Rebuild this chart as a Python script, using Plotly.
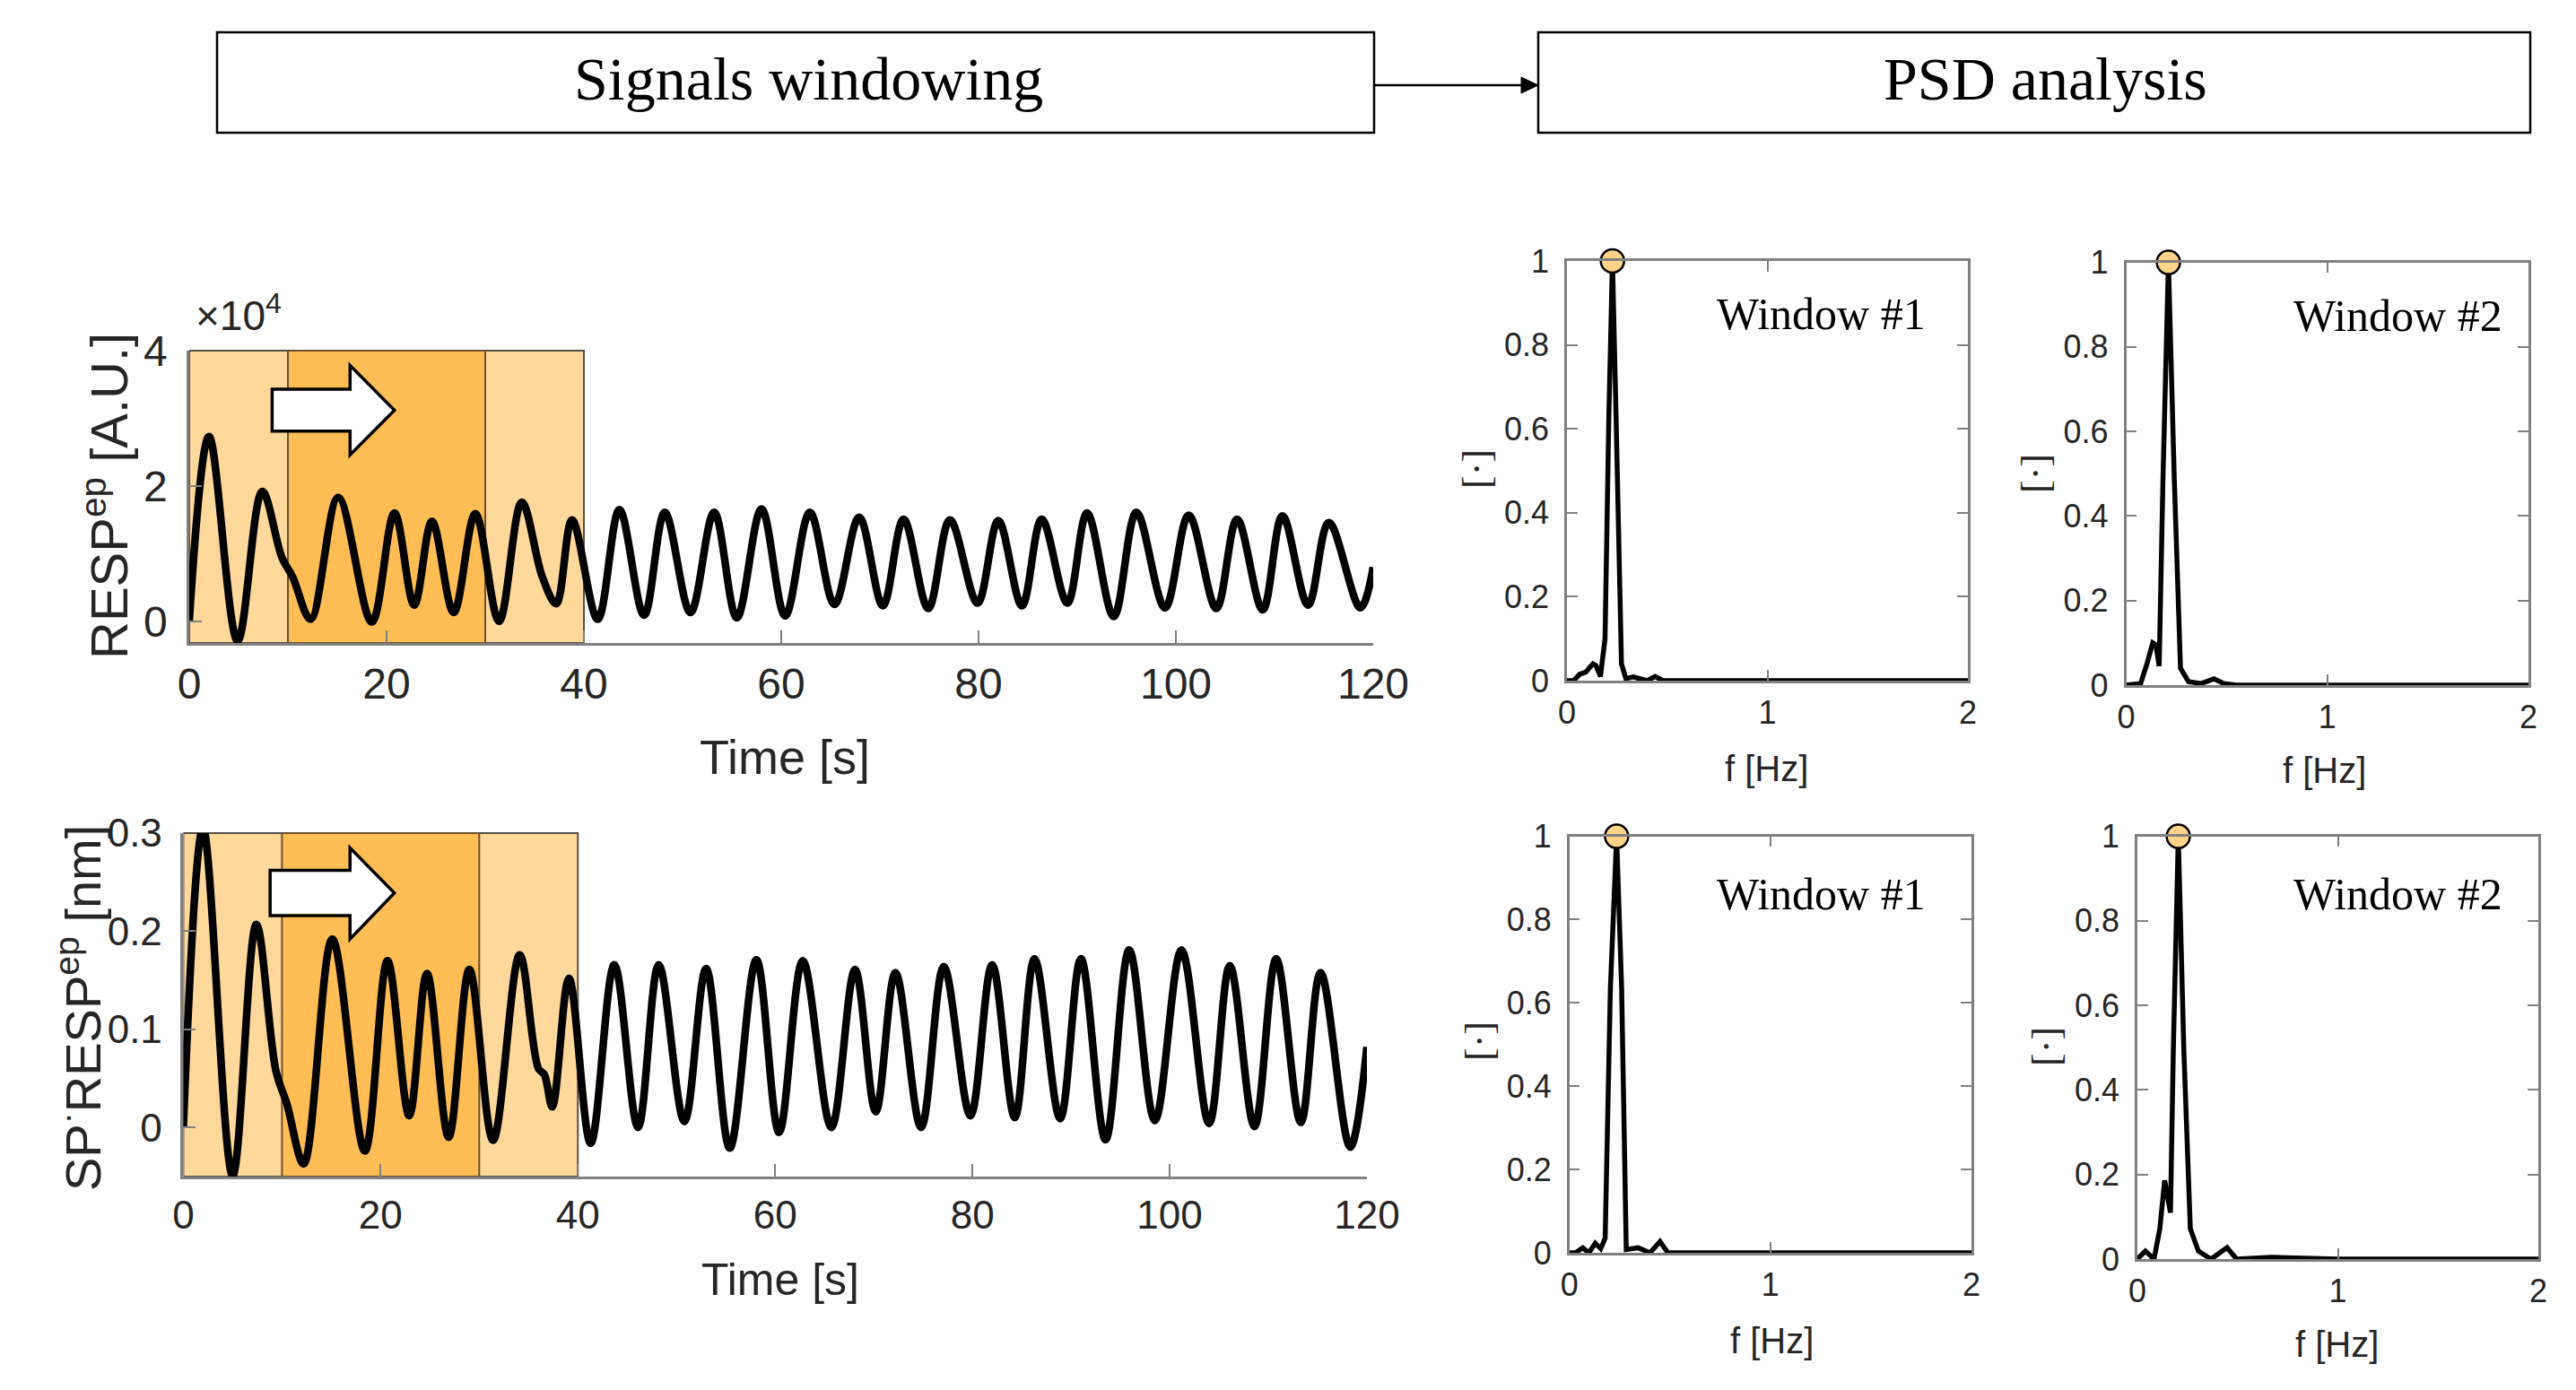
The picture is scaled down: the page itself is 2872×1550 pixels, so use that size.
import plotly.graph_objects as go

W, H = 2872, 1550

# ---------------- data ----------------
# RESP^ep signal (x10^4 A.U.) : extrema / shape points
t_resp = [0, 2.0, 4.9, 7.4, 9.4, 10.5, 12.3, 15.1, 18.5, 20.8, 22.8, 24.6, 26.8, 29.0, 31.4,
          33.7, 35.8, 37.2, 38.8, 41.4, 43.6, 46.1, 48.2, 50.8, 53.2, 55.5, 58.0, 60.4, 62.9,
          65.4, 67.9, 70.3, 72.4, 74.9, 77.1, 79.9, 82.0, 84.4, 86.4, 89.0, 91.0, 93.7, 96.0,
          98.9, 101.3, 104.1, 106.2, 108.8, 110.8, 113.4, 115.5, 118.7, 120.0]
resp = [0.0, 2.73, -0.29, 1.92, 0.94, 0.65, 0.03, 1.83, -0.01, 1.60, 0.24, 1.48, 0.13, 1.59, 0.0,
        1.76, 0.65, 0.26, 1.50, 0.03, 1.65, 0.09, 1.61, 0.13, 1.61, 0.05, 1.66, 0.08, 1.61,
        0.25, 1.54, 0.23, 1.51, 0.19, 1.50, 0.27, 1.49, 0.23, 1.51, 0.27, 1.60, 0.07, 1.61,
        0.20, 1.57, 0.19, 1.51, 0.17, 1.56, 0.24, 1.46, 0.20, 0.80]

# SP.RESP^ep signal (nm)
t_sp = [0, 2.0, 5.0, 7.4, 9.4, 10.5, 12.2, 15.1, 18.4, 20.7, 22.9, 24.7, 26.9, 29.0, 31.4,
        34.1, 36.0, 36.6, 37.4, 39.1, 41.3, 43.7, 46.1, 48.2, 50.8, 53.0, 55.4, 58.1, 60.4,
        62.8, 65.7, 68.1, 70.2, 72.2, 74.8, 77.1, 79.8, 82.0, 84.3, 86.3, 88.9, 91.0, 93.5,
        95.9, 98.5, 101.2, 104.0, 106.1, 108.6, 110.8, 113.3, 115.3, 118.3, 120.0]
sp = [0.0, 0.305, -0.049, 0.207, 0.057, 0.024, -0.037, 0.192, -0.024, 0.170, 0.012, 0.157, -0.010,
      0.161, -0.013, 0.176, 0.060, 0.054, 0.021, 0.152, -0.016, 0.166, 0.0, 0.166, 0.006, 0.162,
      -0.021, 0.171, -0.005, 0.170, 0.0, 0.161, 0.016, 0.158, 0.0, 0.164, 0.012, 0.166, 0.010,
      0.172, 0.009, 0.172, -0.0125, 0.181, 0.007, 0.181, 0.004, 0.165, 0.001, 0.172, 0.005,
      0.158, -0.020, 0.082]

# windows (s)
win_outer = [0, 40]
win_inner = [10, 30]

# PSD curves
f_tl = [0, 0.033, 0.063, 0.093, 0.13, 0.145, 0.167, 0.19, 0.209, 0.227, 0.245, 0.272, 0.294,
        0.331, 0.40, 0.44, 0.48, 1.0, 2.0]
p_tl = [0, 0.0, 0.015, 0.02, 0.04, 0.036, 0.01, 0.10, 0.63, 1.0, 0.63, 0.04, 0.005,
        0.009, 0.0, 0.01, 0.0, 0.0, 0.0]
f_tr = [0, 0.072, 0.103, 0.132, 0.148, 0.164, 0.183, 0.21, 0.239, 0.27, 0.31, 0.374, 0.437,
        0.485, 0.55, 1.0, 2.0]
p_tr = [0, 0.004, 0.05, 0.10, 0.095, 0.045, 0.49, 1.0, 0.49, 0.04, 0.008, 0.004, 0.015,
        0.004, 0.0, 0.0, 0.0]
f_bl = [0, 0.03, 0.067, 0.097, 0.129, 0.156, 0.178, 0.204, 0.235, 0.26, 0.283, 0.342, 0.401,
        0.451, 0.49, 1.0, 2.0]
p_bl = [0, 0.0, 0.012, 0.0, 0.023, 0.01, 0.035, 0.635, 1.0, 0.635, 0.008, 0.012, 0.0,
        0.027, 0.0, 0.0, 0.0]
f_br = [0, 0.04, 0.083, 0.112, 0.136, 0.152, 0.165, 0.179, 0.204, 0.232, 0.264, 0.304, 0.367,
        0.447, 0.495, 0.67, 1.0, 2.0]
p_br = [0, 0.019, 0.0, 0.072, 0.186, 0.148, 0.11, 0.49, 1.0, 0.49, 0.072, 0.019, 0.0,
        0.027, 0.0, 0.004, 0.0, 0.0]

sig_xticks = [0, 20, 40, 60, 80, 100, 120]
resp_yticks = [0, 2, 4]
sp_yticks = [0, 0.1, 0.2, 0.3]
sp_yticklabels = ["0", "0.1", "0.2", "0.3"]
psd_xticks = [0, 1, 2]
psd_yticks = [0, 0.2, 0.4, 0.6, 0.8, 1]
psd_yticklabels = ["0", "0.2", "0.4", "0.6", "0.8", "1"]

# sliding-window arrow glyph (data units of each signal panel)
arrow_resp = [(8.4, 3.43), (16.3, 3.43), (16.3, 3.78), (20.8, 3.12), (16.3, 2.46), (16.3, 2.81), (8.4, 2.81)]
arrow_sp = [(8.8, 0.262), (16.9, 0.262), (16.9, 0.285), (21.4, 0.239), (16.9, 0.192), (16.9, 0.216), (8.8, 0.216)]

# ---------------- styling ----------------
SANS = "Liberation Sans, Arial, sans-serif"
SERIF = "Liberation Serif, Times New Roman, serif"
AXC = "#808080"
TXT = "#262626"
LIGHT = "#FFD89B"
DARK = "#FFBE55"


def px_x(p):
    return p / W


def px_y(p):
    return 1 - p / H


fig = go.Figure()

# signals
fig.add_trace(go.Scatter(x=t_resp, y=resp, xaxis="x", yaxis="y", mode="lines",
                         line=dict(color="black", width=8.5, shape="spline", smoothing=1.0),
                         showlegend=False, hoverinfo="skip"))
fig.add_trace(go.Scatter(x=t_sp, y=sp, xaxis="x2", yaxis="y2", mode="lines",
                         line=dict(color="black", width=8.5, shape="spline", smoothing=1.0),
                         showlegend=False, hoverinfo="skip"))

psd_sets = [(f_tl, p_tl, "x3", "y3"), (f_tr, p_tr, "x4", "y4"),
            (f_bl, p_bl, "x5", "y5"), (f_br, p_br, "x6", "y6")]
for f, p, xa, ya in psd_sets:
    fig.add_trace(go.Scatter(x=f, y=p, xaxis=xa, yaxis=ya, mode="lines",
                             line=dict(color="black", width=5.5),
                             showlegend=False, hoverinfo="skip"))
    k = p.index(max(p))
    fig.add_trace(go.Scatter(x=[f[k]], y=[p[k]], xaxis=xa, yaxis=ya, mode="markers",
                             marker=dict(size=26, color="#FFD48A", line=dict(color="black", width=2.5)),
                             cliponaxis=False, showlegend=False, hoverinfo="skip"))


def sig_x(domain, fs):
    return dict(domain=domain, range=[0, 120], tickvals=sig_xticks, ticks="inside", ticklen=14,
                tickwidth=2, tickcolor=AXC, showline=True, linecolor=AXC, linewidth=2.5,
                showgrid=False, zeroline=False, tickfont=dict(family=SANS, size=fs, color=TXT),
                ticklabelstandoff=2)


def sig_y(domain, rng, vals, labels, fs):
    return dict(domain=domain, range=rng, tickvals=vals, ticktext=labels, ticks="inside",
                ticklen=14, tickwidth=2, tickcolor=AXC, showline=True, linecolor=AXC,
                linewidth=2.5, showgrid=False, zeroline=False,
                tickfont=dict(family=SANS, size=fs, color=TXT), ticklabelstandoff=12)


def psd_x(domain):
    return dict(domain=domain, range=[0, 2], tickvals=psd_xticks, ticks="inside", ticklen=12,
                tickwidth=2, tickcolor=AXC, showline=True, linecolor=AXC, linewidth=2.5,
                mirror="ticks", showgrid=False, zeroline=False,
                tickfont=dict(family=SANS, size=36, color=TXT), ticklabelstandoff=2)


def psd_y(domain):
    return dict(domain=domain, range=[0, 1], tickvals=psd_yticks, ticktext=psd_yticklabels,
                ticks="inside", ticklen=12, tickwidth=2, tickcolor=AXC, showline=True,
                linecolor=AXC, linewidth=2.5, mirror="ticks", showgrid=False, zeroline=False,
                tickfont=dict(family=SANS, size=36, color=TXT), ticklabelstandoff=10)


fig.update_layout(
    width=W, height=H, margin=dict(l=0, r=0, t=0, b=0),
    paper_bgcolor="white", plot_bgcolor="rgba(0,0,0,0)", template="none", showlegend=False,
    xaxis=dict(sig_x([px_x(203), px_x(1523)], 48), anchor="y"),
    yaxis=dict(sig_y([px_y(709), px_y(383)], [-0.32, 4.0], resp_yticks,
                     [str(v) for v in resp_yticks], 48), anchor="x"),
    xaxis2=dict(sig_x([px_x(196.4), px_x(1516)], 44), anchor="y2"),
    yaxis2=dict(sig_y([px_y(1304), px_y(921)], [-0.05, 0.3], sp_yticks, sp_yticklabels, 44),
                anchor="x2"),
    xaxis3=dict(psd_x([px_x(1739), px_x(2186)]), anchor="y3"),
    yaxis3=dict(psd_y([px_y(751), px_y(283)]), anchor="x3"),
    xaxis4=dict(psd_x([px_x(2362.5), px_x(2811)]), anchor="y4"),
    yaxis4=dict(psd_y([px_y(756), px_y(284.6)]), anchor="x4"),
    xaxis5=dict(psd_x([px_x(1741.7), px_x(2190)]), anchor="y5"),
    yaxis5=dict(psd_y([px_y(1389), px_y(924.6)]), anchor="x5"),
    xaxis6=dict(psd_x([px_x(2375), px_x(2822)]), anchor="y6"),
    yaxis6=dict(psd_y([px_y(1396), px_y(924.6)]), anchor="x6"),
)

shapes = []
for xr, yr, arrow in [("x", "y", arrow_resp), ("x2", "y2", arrow_sp)]:
    shapes.append(dict(type="rect", xref=xr, yref=yr + " domain", x0=win_outer[0], x1=win_outer[1],
                       y0=0, y1=1, fillcolor=LIGHT, line=dict(color="#55504a", width=2), layer="below"))
    shapes.append(dict(type="rect", xref=xr, yref=yr + " domain", x0=win_inner[0], x1=win_inner[1],
                       y0=0, y1=1, fillcolor=DARK, line=dict(color="#6b5030", width=2), layer="below"))
    path = "M " + " L ".join(f"{a},{b}" for a, b in arrow) + " Z"
    shapes.append(dict(type="path", xref=xr, yref=yr, path=path, fillcolor="white",
                       line=dict(color="black", width=3.5), layer="below"))

# header boxes
for x0, x1 in [(234, 1524), (1707, 2813)]:
    shapes.append(dict(type="rect", xref="paper", yref="paper", x0=px_x(x0), x1=px_x(x1),
                       y0=px_y(140), y1=px_y(28), fillcolor="white",
                       line=dict(color="black", width=2.5)))
# connector arrow between header boxes
shapes.append(dict(type="line", xref="paper", yref="paper", x0=px_x(1524), x1=px_x(1690),
                   y0=px_y(87), y1=px_y(87), line=dict(color="black", width=2.5)))
head = [(1688, 78), (1707, 87), (1688, 96)]
shapes.append(dict(type="path", xref="paper", yref="paper",
                   path="M " + " L ".join(f"{px_x(a)},{px_y(b)}" for a, b in head) + " Z",
                   fillcolor="black", line=dict(color="black", width=1)))
fig.update_layout(shapes=shapes)


def ptext(x, y, text, font, angle=0, xa="center", ya="middle"):
    return dict(xref="paper", yref="paper", x=px_x(x), y=px_y(y), text=text, showarrow=False,
                xanchor=xa, yanchor=ya, textangle=angle, font=font)


ann = []
ann.append(ptext(893, 80, "Signals windowing", dict(family=SERIF, size=68, color="black")))
ann.append(ptext(2272, 80, "PSD analysis", dict(family=SERIF, size=68, color="black")))

# signal axis titles
ann.append(ptext(867, 836, "Time [s]", dict(family=SANS, size=54, color=TXT)))
ann.append(ptext(862, 1419, "Time [s]", dict(family=SANS, size=50, color=TXT)))
ann.append(ptext(110, 545, "RESP<sup>ep</sup> [A.U.]", dict(family=SANS, size=58, color=TXT), -90))
ann.append(ptext(80, 1116, "SP<sup>·</sup>RESP<sup>ep</sup> [nm]", dict(family=SANS, size=56, color=TXT), -90))
ann.append(ptext(208, 372, "×10<sup>4</sup>", dict(family=SANS, size=46, color=TXT), 0, "left", "bottom"))

# PSD titles
for cx, cy in [(1638, 515), (2261, 520), (1641, 1153), (2273, 1159)]:
    ann.append(ptext(cx, cy, "[·]", dict(family=SERIF, size=44, color=TXT), -90))
for cx, cy in [(1961, 849), (2583, 851), (1967, 1487), (2597, 1491)]:
    ann.append(ptext(cx, cy, "f [Hz]", dict(family=SANS, size=40, color=TXT)))

for xr, yr, xv, yv, lab in [("x3", "y3", 1.80, 0.874, "Window #1"), ("x4", "y4", 1.88, 0.874, "Window #2"),
                            ("x5", "y5", 1.78, 0.862, "Window #1"), ("x6", "y6", 1.83, 0.864, "Window #2")]:
    ann.append(dict(xref=xr, yref=yr, x=xv, y=yv, xanchor="right", yanchor="middle", text=lab,
                    showarrow=False, font=dict(family=SERIF, size=50, color="black")))

fig.update_layout(annotations=ann)
fig.write_html("out.html")
